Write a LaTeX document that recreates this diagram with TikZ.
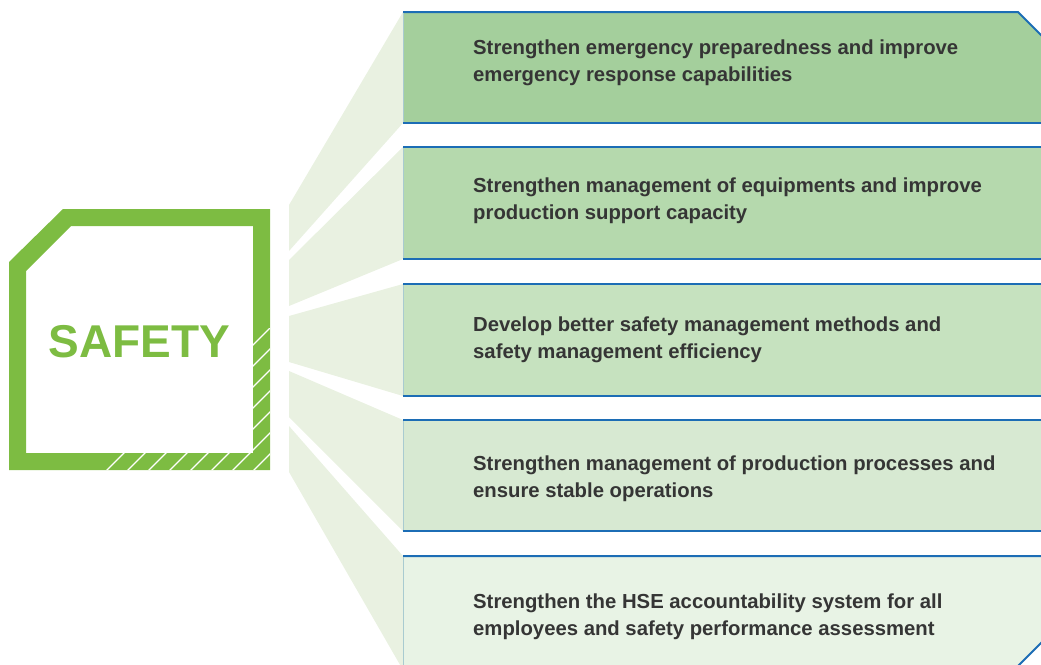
\documentclass[tikz,border=0pt]{standalone}
\usepackage{fontspec}
\setmainfont{Liberation Sans}
\begin{document}
\definecolor{frame}{HTML}{7DBC42}
\definecolor{fan}{HTML}{E9F1E1}
\definecolor{edge}{HTML}{1C6DB5}
\definecolor{side}{HTML}{A9CBD0}
\definecolor{ink}{HTML}{353535}
\definecolor{bandA}{HTML}{A4CF9C}
\definecolor{bandB}{HTML}{B5D9AD}
\definecolor{bandC}{HTML}{C6E2BF}
\definecolor{bandD}{HTML}{D7E9D2}
\definecolor{bandE}{HTML}{E8F3E5}
\begin{tikzpicture}[x=1pt,y=-1pt,
  wedge/.style={fill=fan,draw=none},
  rule/.style={draw=edge,line width=2pt},
  sideline/.style={draw=side,line width=0.8pt},
  itemtext/.style={anchor=base west,align=left,text=ink,inner sep=0pt,
    font=\fontsize{20.3}{26.5}\selectfont\bfseries},
  hatch/.style={draw=white,line width=1.3pt}]
\useasboundingbox (0,0) rectangle (1041,664);
\clip (0,0) rectangle (1041,664);

% fan of wedges joining the frame to the bands
\path[wedge] (289,205) -- (403,12)  -- (403,123) -- (289,251) -- cycle;
\path[wedge] (289,260) -- (403,147) -- (403,259) -- (289,306) -- cycle;
\path[wedge] (289,316) -- (403,284) -- (403,396) -- (289,362) -- cycle;
\path[wedge] (289,371) -- (403,420) -- (403,531) -- (289,417) -- cycle;
\path[wedge] (289,426) -- (403,556) -- (403,670) -- (289,472) -- cycle;

% bands
\fill[bandA] (403,12) -- (1018,12) -- (1129,123) -- (403,123) -- cycle;
\draw[rule] (403,12) -- (1018,12) -- (1129,123);
\draw[rule] (403,123) -- (1129,123);
\draw[sideline] (403,13) -- (403,122);

\fill[bandB] (403,147) rectangle (1060,259);
\draw[rule] (403,147) -- (1060,147);
\draw[rule] (403,259) -- (1060,259);
\draw[sideline] (403,148) -- (403,258);

\fill[bandC] (403,284) rectangle (1060,396);
\draw[rule] (403,284) -- (1060,284);
\draw[rule] (403,396) -- (1060,396);
\draw[sideline] (403,285) -- (403,395);

\fill[bandD] (403,420) rectangle (1060,531);
\draw[rule] (403,420) -- (1060,420);
\draw[rule] (403,531) -- (1060,531);
\draw[sideline] (403,421) -- (403,530);

\fill[bandE] (403,556) -- (1128,556) -- (1000,684) -- (403,684) -- cycle;
\draw[rule] (403,556) -- (1128,556) -- (1000,684);
\draw[sideline] (403,557) -- (403,670);

% band texts (anchored at the baseline of the second line)
\node[itemtext] (t1) at (473,81)  {Strengthen emergency preparedness and improve\\emergency response capabilities};
\node[itemtext] (t2) at (473,219) {Strengthen management of equipments and improve\\production support capacity};
\node[itemtext] (t3) at (473,358) {Develop better safety management methods and\\safety management efficiency};
\node[itemtext] (t4) at (473,497) {Strengthen management of production processes and\\ensure stable operations};
\node[itemtext] (t5) at (473,635) {Strengthen the HSE accountability system for all\\employees and safety performance assessment};

% SAFETY frame with chamfered corner
\fill[frame,even odd rule]
  (9,262) -- (63,209) -- (270,209) -- (270,470) -- (9,470) -- cycle
  (26,271) -- (71,226) -- (253,226) -- (253,453) -- (26,453) -- cycle;
\begin{scope}
  \clip (105,453) rectangle (270,470) (253,328) rectangle (270,453);
  \foreach \c in {556,577,...,766}
    \draw[hatch] (\c-480,480) -- (\c-300,300);
\end{scope}
\node[anchor=base,text=frame,inner sep=0pt,
  font=\fontsize{46}{50}\selectfont\bfseries] (safety) at (139.5,357) {SAFETY};
\end{tikzpicture}
\end{document}
